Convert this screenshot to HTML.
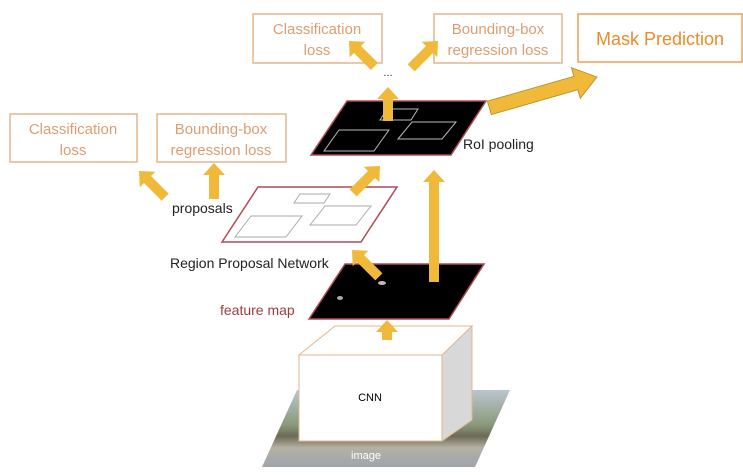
<!DOCTYPE html>
<html><head><meta charset="utf-8"><style>
html,body{margin:0;padding:0;background:#fff}
svg{display:block}
.t{font-family:"Liberation Sans",sans-serif}
</style></head><body>
<svg width="743" height="475" viewBox="0 0 743 475" xmlns="http://www.w3.org/2000/svg">
<defs>
<linearGradient id="sky" x1="0" y1="0" x2="0" y2="1">
<stop offset="0" stop-color="#b9c6cf"/><stop offset="0.45" stop-color="#8a9a7a"/><stop offset="0.6" stop-color="#6d6a55"/><stop offset="0.75" stop-color="#b5b0a3"/><stop offset="1" stop-color="#9ea5ab"/>
</linearGradient>
</defs>
<g fill="none" stroke="#e6b58e" stroke-width="1.5">
<rect x="253" y="14" width="129" height="49"/>
<rect x="434" y="14" width="128" height="49"/>
<rect x="10" y="114" width="127" height="48"/>
<rect x="157" y="114" width="129" height="48"/>
</g>
<rect x="578" y="14" width="164" height="48" fill="none" stroke="#f0a050" stroke-width="1.5"/>
<g class="t" fill="#dc9e70" font-size="15" text-anchor="middle">
<text x="317" y="34">Classification</text><text x="317" y="55">loss</text>
<text x="498" y="34">Bounding-box</text><text x="498" y="55">regression loss</text>
<text x="73" y="134">Classification</text><text x="73" y="155">loss</text>
<text x="221" y="134">Bounding-box</text><text x="221" y="155">regression loss</text>
</g>
<text x="660" y="45" class="t" fill="#ee8a2a" font-size="18" text-anchor="middle">Mask Prediction</text>
<text x="388" y="76" class="t" font-size="11" fill="#333" text-anchor="middle">...</text>

<!-- image -->
<polygon points="262,467 297,390 510,390 475,467" fill="url(#sky)"/>
<text x="366" y="459" class="t" font-size="11" fill="#fff" text-anchor="middle">image</text>
<!-- CNN -->
<polygon points="442,355 472,326 472,420 442,441" fill="#d8d8d8" stroke="#e6b58e"/>
<polygon points="299,355 335,326 472,326 442,355" fill="#fff" stroke="#e6b58e"/>
<rect x="299" y="355" width="143" height="86" fill="#fff" stroke="#e6b58e"/>
<text x="370" y="401" class="t" font-size="11" fill="#000" text-anchor="middle">CNN</text>

<!-- feature map -->
<polygon points="309,319 345,264 484,264 449,319" fill="#000" stroke="#b04a55" stroke-width="1.5"/>
<ellipse cx="382" cy="283" rx="4" ry="2" fill="#bbb"/><ellipse cx="340" cy="298" rx="3" ry="2" fill="#aaa"/>
<text x="220" y="315" class="t" font-size="14" fill="#a33a3a">feature map</text>
<text x="170" y="268" class="t" font-size="14" fill="#222">Region Proposal Network</text>

<!-- proposals -->
<polygon points="222,242 258,187 397,187 361,242" fill="#fff" stroke="#b04a55" stroke-width="1.5"/>
<g fill="none" stroke="#aaa">
<polygon points="235,237 251,216 302,216 286,237"/>
<polygon points="310,225 325,206 371,206 356,225"/>
<polygon points="294,203 300,194 330,194 324,203"/>
</g>
<text x="172" y="213" class="t" font-size="14" fill="#222">proposals</text>

<!-- RoI pooling -->
<polygon points="311,155 347,101 486,101 451,155" fill="#000" stroke="#b04a55" stroke-width="1.5"/>
<g fill="none" stroke="#bbb">
<polygon points="324,151 339,130 389,130 374,151"/>
<polygon points="398,139 412,122 456,122 442,139"/>
<polygon points="380,120 387,109 418,109 411,120"/>
</g>
<text x="463" y="149" class="t" font-size="14" fill="#222">RoI pooling</text>

<!-- arrows -->
<g fill="#f0b93a">
<g transform="translate(387,320)"><polygon points="0,0 11,12 5,12 5,20 -5,20 -5,12 -11,12"/></g>
<g transform="translate(434,170)"><polygon points="0,0 11,12 5,12 5,112 -5,112 -5,12 -11,12"/></g>
<g transform="translate(352,250) rotate(-45)"><polygon points="0,0 11,12 5,12 5,38 -5,38 -5,12 -11,12"/></g>
<g transform="translate(380,166) rotate(45)"><polygon points="0,0 11,12 5,12 5,38 -5,38 -5,12 -11,12"/></g>
<g transform="translate(388,87)"><polygon points="0,0 11,12 5,12 5,34 -5,34 -5,12 -11,12"/></g>
<g transform="translate(139,171) rotate(-45)"><polygon points="0,0 11,12 5,12 5,37 -5,37 -5,12 -11,12"/></g>
<g transform="translate(214,163)"><polygon points="0,0 11,12 5,12 5,36 -5,36 -5,12 -11,12"/></g>
<g transform="translate(349,41) rotate(-45)"><polygon points="0,0 11,12 5,12 5,36 -5,36 -5,12 -11,12"/></g>
<g transform="translate(438,41) rotate(45)"><polygon points="0,0 11,12 5,12 5,38 -5,38 -5,12 -11,12"/></g>
<g transform="translate(597,77) rotate(74)"><polygon points="0,0 16,22 7,22 7,112 -7,112 -7,22 -16,22" stroke="#b08a20" stroke-width="0.8"/></g>
</g>
</svg>
</body></html>
